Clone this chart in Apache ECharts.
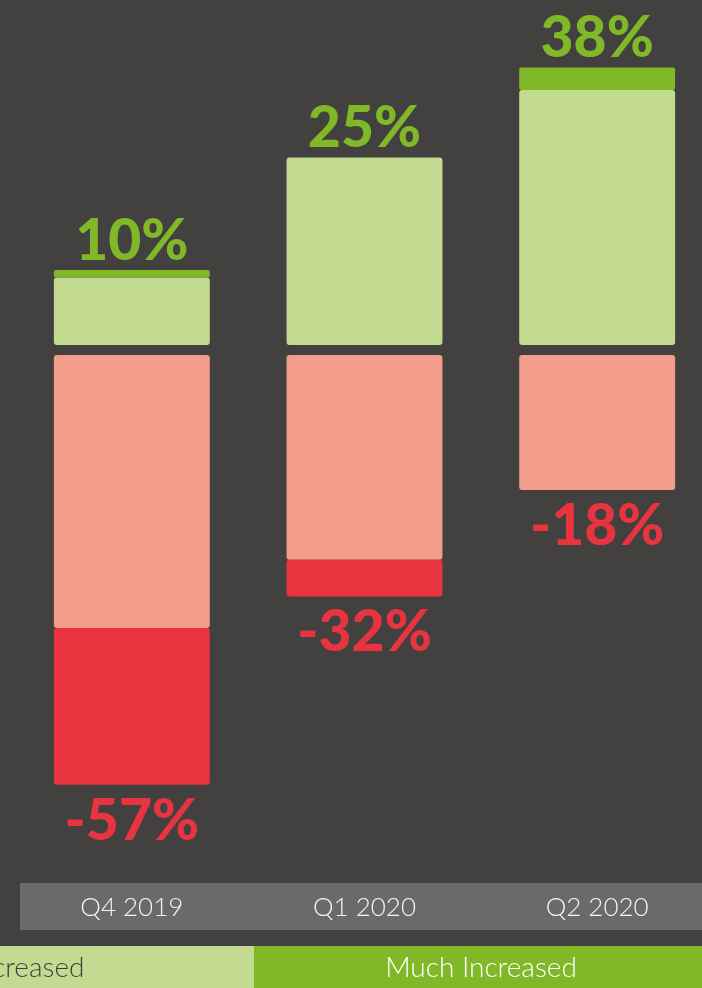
<!DOCTYPE html>
<html>
<head>
<meta charset="utf-8">
<script src="https://cdn.jsdelivr.net/npm/echarts@6/dist/echarts.min.js"></script>
<style>
  html, body { margin: 0; padding: 0; background: #434140; }
  #chart { width: 702px; height: 988px; }
</style>
</head>
<body>
<div id="chart"></div>
<script>
// values (percent)
let quarters = ['Q4 2019', 'Q1 2020', 'Q2 2020']
let increased = [9, 25, 34]
let muchIncreased = [1, 0, 3]
let decreased = [-36.4, -27.3, -18]
let muchDecreased = [-20.9, -4.9, 0]
let upLabels = ['10%', '25%', '38%']
let downLabels = ['-57%', '-32%', '-18%']

let bigFont = {
  fontFamily: 'Lato',
  fontWeight: 900,
  fontSize: 57
}

let chart = echarts.init(document.getElementById('chart'))
chart.setOption({
  backgroundColor: '#434140',
  animation: false,
  grid: [
    { left: 15.5, width: 698, top: 0, height: 345, outerBoundsMode: 'none', containLabel: false },
    { left: 15.5, width: 698, top: 355, height: 450, outerBoundsMode: 'none', containLabel: false }
  ],
  xAxis: [
    { type: 'category', gridIndex: 0, data: quarters, show: false },
    {
      type: 'category',
      gridIndex: 1,
      data: quarters,
      position: 'bottom',
      offset: 88,
      axisLine: { show: false },
      axisTick: { show: false },
      axisLabel: {
        margin: 2,
        color: '#f4f4f4',
        fontFamily: 'Lato',
        fontWeight: 300,
        fontSize: 26
      }
    }
  ],
  yAxis: [
    { type: 'value', gridIndex: 0, min: 0, max: 46, show: false },
    { type: 'value', gridIndex: 1, min: -60, max: 0, show: false }
  ],
  graphic: [
    {
      type: 'rect',
      z: -10,
      shape: { x: 20, y: 883, width: 700, height: 47 },
      style: { fill: '#6b6a68' }
    },
    {
      type: 'rect',
      shape: { x: -200, y: 946, width: 454, height: 42 },
      style: { fill: '#c3da91' }
    },
    {
      type: 'text',
      x: 27,
      y: 968,
      style: { text: 'Increased', fill: '#3f3f3f', font: '300 28px Lato', textAlign: 'center', textVerticalAlign: 'middle' }
    },
    {
      type: 'rect',
      shape: { x: 254, y: 946, width: 454, height: 42 },
      style: { fill: '#80b827' }
    },
    {
      type: 'text',
      x: 481,
      y: 968,
      style: { text: 'Much Increased', fill: '#ffffff', font: '300 28px Lato', textAlign: 'center', textVerticalAlign: 'middle' }
    }
  ],
  series: [
    {
      name: 'Increased',
      type: 'bar',
      xAxisIndex: 0,
      yAxisIndex: 0,
      stack: 'up',
      barWidth: '67%',
      data: increased,
      itemStyle: { color: '#c3da91', borderRadius: 3 }
    },
    {
      name: 'Much Increased',
      type: 'bar',
      xAxisIndex: 0,
      yAxisIndex: 0,
      stack: 'up',
      barWidth: '67%',
      data: muchIncreased,
      itemStyle: { color: '#80b827', borderRadius: 2 },
      label: Object.assign({
        show: true,
        position: 'top',
        distance: 0,
        color: '#80b827',
        formatter: function (p) {
          return upLabels[p.dataIndex]
        }
      }, bigFont)
    },
    {
      name: 'Decreased',
      type: 'bar',
      xAxisIndex: 1,
      yAxisIndex: 1,
      stack: 'down',
      barWidth: '67%',
      data: decreased,
      itemStyle: { color: '#f29c8c', borderRadius: 3 }
    },
    {
      name: 'Much Decreased',
      type: 'bar',
      xAxisIndex: 1,
      yAxisIndex: 1,
      stack: 'down',
      barWidth: '67%',
      data: muchDecreased,
      itemStyle: { color: '#e8343f', borderRadius: 3 },
      label: Object.assign({
        show: true,
        position: 'bottom',
        distance: 8,
        color: '#e8343f',
        formatter: function (p) {
          return downLabels[p.dataIndex]
        }
      }, bigFont)
    }
  ]
})
</script>
</body>
</html>
